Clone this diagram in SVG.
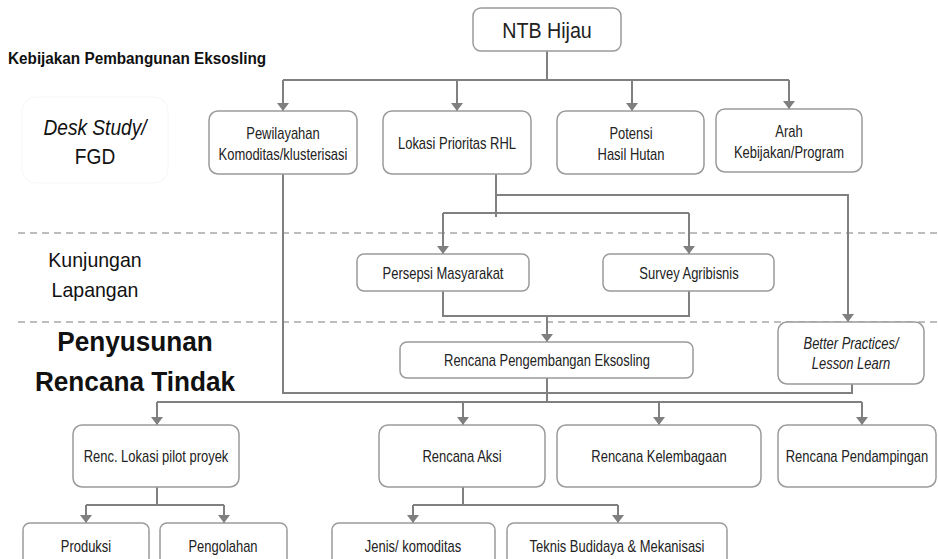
<svg xmlns="http://www.w3.org/2000/svg" width="938" height="559" viewBox="0 0 938 559">
<defs>
<marker id="ah" markerUnits="userSpaceOnUse" markerWidth="9" markerHeight="13" refX="8" refY="6.5" orient="auto">
<path d="M0,0.5 L8,6.5 L0,12.5 Z" fill="#7f7f7f"/>
</marker>
<style>
.b{fill:#fff;stroke:#9a9a9a;stroke-width:1.5}
.t{font-family:"Liberation Sans Narrow","Arial Narrow","Liberation Sans",sans-serif;font-size:16px;fill:#222;text-anchor:middle}
.i{font-style:italic}
.c{fill:none;stroke:#808080;stroke-width:2}
.a{marker-end:url(#ah)}
.d{stroke:#a8a8a8;stroke-width:1.5;stroke-dasharray:7,5;fill:none}
.lab{font-family:"Liberation Sans Narrow","Arial Narrow","Liberation Sans",sans-serif;fill:#111;text-anchor:middle}
</style>
</defs>
<rect width="938" height="559" fill="#fff"/>
<g id="dividers">
<line class="d" x1="18" y1="233" x2="938" y2="233"/>
<line class="d" x1="18" y1="322" x2="938" y2="322"/>
</g>
<g id="labels">
<text transform="translate(8 0) scale(0.9 1)" x="0" y="64" class="lab" style="text-anchor:start;font-weight:bold;font-size:17px">Kebijakan Pembangunan Eksosling</text>
<rect x="22" y="97" width="146" height="86" rx="14" fill="none" stroke="#f6f6f6" stroke-width="1"/>
<text transform="translate(95 0) scale(0.87 1)" x="0" y="135" class="lab i" style="font-size:22px">Desk Study/</text>
<text transform="translate(95 0) scale(0.87 1)" x="0" y="164" class="lab" style="font-size:22px">FGD</text>
<text transform="translate(95 0) scale(0.93 1)" x="0" y="267" class="lab" style="font-size:21px">Kunjungan</text>
<text transform="translate(95 0) scale(0.93 1)" x="0" y="297" class="lab" style="font-size:21px">Lapangan</text>
<text transform="translate(135 0) scale(0.97 1)" x="0" y="351" class="lab" style="font-size:27px;font-weight:bold">Penyusunan</text>
<text transform="translate(135 0) scale(0.97 1)" x="0" y="391" class="lab" style="font-size:27px;font-weight:bold">Rencana Tindak</text>
</g>
<g id="connectors">
<polyline class="c" points="547,51 547,80"/>
<polyline class="c" points="283,80 789,80"/>
<line class="c a" x1="283" y1="80" x2="283" y2="111"/>
<line class="c a" x1="457" y1="80" x2="457" y2="111"/>
<line class="c a" x1="632" y1="80" x2="632" y2="111"/>
<line class="c a" x1="789" y1="80" x2="789" y2="109"/>
<polyline class="c" points="496,174 496,217"/>
<polyline class="c a" points="496,195 848,195 848,322"/>
<polyline class="c" points="443,213 689,213"/>
<line class="c a" x1="443" y1="213" x2="443" y2="254"/>
<line class="c a" x1="689" y1="213" x2="689" y2="254"/>
<polyline class="c" points="443,291 443,316 689,316 689,291"/>
<line class="c a" x1="547" y1="316" x2="547" y2="342"/>
<polyline class="c" points="283,174 283,393 852,393 852,384"/>
<line class="c" x1="547" y1="378" x2="547" y2="402"/>
<polyline class="c" points="157,402 862,402"/>
<line class="c a" x1="157" y1="402" x2="157" y2="425"/>
<line class="c a" x1="463" y1="402" x2="463" y2="425"/>
<line class="c a" x1="659" y1="402" x2="659" y2="425"/>
<line class="c a" x1="862" y1="402" x2="862" y2="425"/>
<polyline class="c" points="157,487 157,505"/>
<polyline class="c" points="86,505 224,505"/>
<line class="c a" x1="86" y1="505" x2="86" y2="523"/>
<line class="c a" x1="224" y1="505" x2="224" y2="523"/>
<polyline class="c" points="463,487 463,505"/>
<polyline class="c" points="413,505 618,505"/>
<line class="c a" x1="413" y1="505" x2="413" y2="523"/>
<line class="c a" x1="618" y1="505" x2="618" y2="523"/>
</g>
<g id="ntb"><rect class="b" x="473" y="8" width="148" height="43" rx="8"/><text class="t" transform="translate(547 0) scale(0.895 1)" x="0" y="38" style="font-size:22px">NTB Hijau</text></g>
<g id="pewilayahan"><rect class="b" x="209" y="111" width="148" height="63" rx="9"/><text class="t" transform="translate(283 0) scale(0.81 1)" x="0" y="139">Pewilayahan</text><text class="t" transform="translate(283 0) scale(0.81 1)" x="0" y="160">Komoditas/klusterisasi</text></g>
<g id="lokasi"><rect class="b" x="383" y="111" width="148" height="63" rx="9"/><text class="t" transform="translate(457 0) scale(0.81 1)" x="0" y="149">Lokasi Prioritas RHL</text></g>
<g id="potensi"><rect class="b" x="557" y="111" width="147" height="63" rx="9"/><text class="t" transform="translate(631 0) scale(0.81 1)" x="0" y="139">Potensi</text><text class="t" transform="translate(631 0) scale(0.81 1)" x="0" y="160">Hasil Hutan</text></g>
<g id="arah"><rect class="b" x="716" y="109" width="146" height="63" rx="9"/><text class="t" transform="translate(789 0) scale(0.81 1)" x="0" y="137">Arah</text><text class="t" transform="translate(789 0) scale(0.81 1)" x="0" y="158">Kebijakan/Program</text></g>
<g id="persepsi"><rect class="b" x="357" y="254" width="172" height="37" rx="7"/><text class="t" transform="translate(443 0) scale(0.81 1)" x="0" y="279">Persepsi Masyarakat</text></g>
<g id="survey"><rect class="b" x="603" y="254" width="171" height="37" rx="7"/><text class="t" transform="translate(689 0) scale(0.81 1)" x="0" y="279">Survey Agribisnis</text></g>
<g id="rencana-pengembangan"><rect class="b" x="400" y="342" width="293" height="36" rx="7"/><text class="t" transform="translate(547 0) scale(0.81 1)" x="0" y="366">Rencana Pengembangan Eksosling</text></g>
<g id="better"><rect class="b" x="778" y="322" width="146" height="62" rx="9"/><text class="t i" transform="translate(851 0) scale(0.81 1)" x="0" y="349">Better Practices/</text><text class="t i" transform="translate(851 0) scale(0.81 1)" x="0" y="369">Lesson Learn</text></g>
<g id="renc-lokasi"><rect class="b" x="73" y="425" width="166" height="62" rx="9"/><text class="t" transform="translate(156 0) scale(0.81 1)" x="0" y="462">Renc. Lokasi pilot proyek</text></g>
<g id="rencana-aksi"><rect class="b" x="379" y="425" width="166" height="62" rx="9"/><text class="t" transform="translate(462 0) scale(0.81 1)" x="0" y="462">Rencana Aksi</text></g>
<g id="kelembagaan"><rect class="b" x="557" y="425" width="204" height="62" rx="9"/><text class="t" transform="translate(659 0) scale(0.81 1)" x="0" y="462">Rencana Kelembagaan</text></g>
<g id="pendampingan"><rect class="b" x="778" y="425" width="158" height="62" rx="9"/><text class="t" transform="translate(857 0) scale(0.81 1)" x="0" y="462">Rencana Pendampingan</text></g>
<g id="produksi"><rect class="b" x="23" y="523" width="126" height="45" rx="7"/><text class="t" transform="translate(86 0) scale(0.81 1)" x="0" y="552">Produksi</text></g>
<g id="pengolahan"><rect class="b" x="160" y="523" width="127" height="45" rx="7"/><text class="t" transform="translate(223 0) scale(0.81 1)" x="0" y="552">Pengolahan</text></g>
<g id="jenis"><rect class="b" x="332" y="523" width="163" height="45" rx="7"/><text class="t" transform="translate(413 0) scale(0.81 1)" x="0" y="552">Jenis/ komoditas</text></g>
<g id="teknis"><rect class="b" x="507" y="523" width="220" height="45" rx="7"/><text class="t" transform="translate(617 0) scale(0.81 1)" x="0" y="552">Teknis Budidaya &amp; Mekanisasi</text></g>
</svg>
